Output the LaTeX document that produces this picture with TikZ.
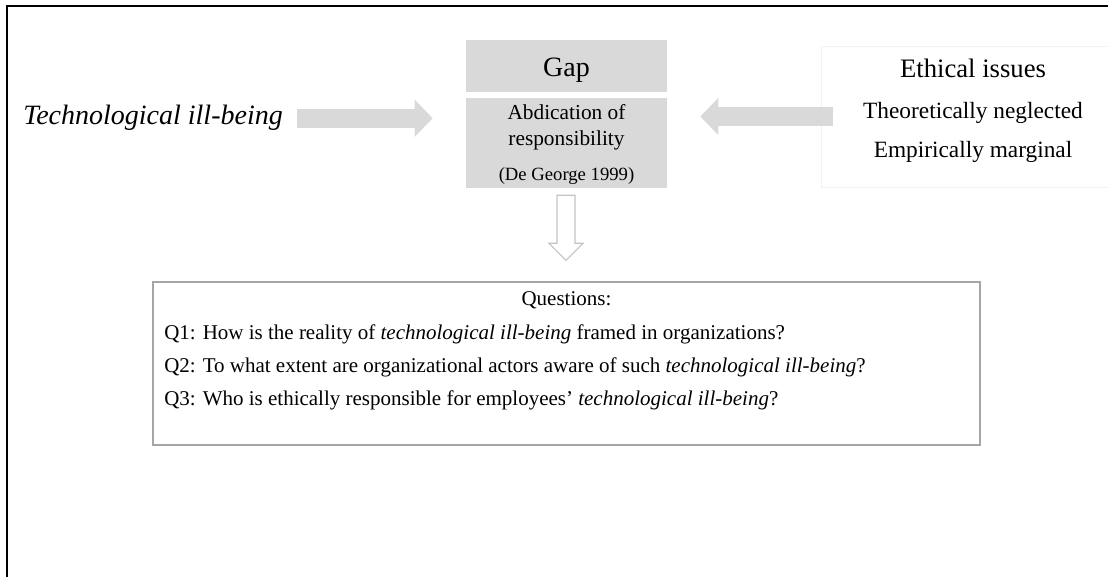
\documentclass[tikz,border=0pt]{standalone}
\usepackage{fontspec}
\setmainfont{Liberation Serif}
\usetikzlibrary{arrows.meta, positioning, calc}
\definecolor{gfill}{HTML}{D9D9D9}
\definecolor{gline}{HTML}{A6A6A6}
\definecolor{hline}{HTML}{C4C4C4}
\definecolor{fline}{HTML}{F2F2F2}
\tikzset{
  graybox/.style={fill=gfill, minimum width=150.75pt, inner sep=0pt},
  ethframe/.style={draw=fline, minimum width=225pt, minimum height=105.75pt, inner sep=0pt},
  qframe/.style={draw=gline, line width=0.8pt, minimum width=620.25pt, minimum height=122.25pt, inner sep=0pt},
  lbl/.style={inner sep=0pt, anchor=base},
  qline/.style={inner sep=0pt, anchor=base west, font=\fontsize{15.75}{19}\selectfont},
  fatarr/.style={gfill, line width=14.25pt, -{Triangle[length=13.5pt, width=27pt]}},
  hollowarr/.style={draw=hline, fill=white, line width=0.8pt, line join=miter},
}

\begin{document}
\begin{tikzpicture}[x=0.75pt, y=-0.75pt]
    \useasboundingbox (0,0) rectangle (1108,577);
    \draw[line width=1.1pt] (7,577) -- (7,6) -- (1108,6);

    % left side
    \node[lbl, anchor=base west, font=\fontsize{21}{25}\selectfont\itshape] (tib) at (23,125) {Technological ill-being};

    % gap in the middle
    \node[graybox, minimum height=39pt] (gap) at (566.5,66) {};
    \node[lbl, font=\fontsize{21}{25}\selectfont] (gaplbl) at (566.5,77) {Gap};
    \node[graybox, minimum height=67.5pt] (abd) at (566.5,143) {};
    \node[lbl, font=\fontsize{16}{19}\selectfont] (abd1) at (566.5,120) {Abdication of};
    \node[lbl, font=\fontsize{16}{19}\selectfont] (abd2) at (566.5,146) {responsibility};
    \node[lbl, font=\fontsize{14}{17}\selectfont] (abdref) at (566.5,181) {(De George 1999)};

    % right side
    \node[ethframe, anchor=west] (ethbox) at (821,116.5) {};
    \node[lbl, font=\fontsize{20}{24}\selectfont] (eth) at (973,78) {Ethical issues};
    \node[lbl, font=\fontsize{17.5}{21}\selectfont] (eth1) at (973,119) {Theoretically neglected};
    \node[lbl, font=\fontsize{17.5}{21}\selectfont] (eth2) at (973,158) {Empirically marginal};

    % questions
    \node[qframe] (qbox) at (566.5,363.5) {};
    \node[lbl, font=\fontsize{15.75}{19}\selectfont] (qhead) at (566.5,306) {Questions:};
    \node[qline] (q1) at (164,340) {Q1: How is the reality of \textit{technological ill-being} framed in organizations?};
    \node[qline] (q2) at (164,373) {Q2: To what extent are organizational actors aware of such \textit{technological ill-being}?};
    \node[qline] (q3) at (164,406) {Q3: Who is ethically responsible for employees’ \textit{technological ill-being}?};

    \draw[fatarr, shorten <=10.5pt, shorten >=24.75pt] (tib.east) -- (tib.east -| abd.west);
    \draw[fatarr, shorten <=-9pt, shorten >=24.75pt] (ethbox.west) -- (ethbox.west -| abd.east);
    \draw[hollowarr] ($(abd.south)+(-9.5,7)$) -- ++(18,0) -- ++(0,48) -- ++(8,0)
      -- ++(-17,17) -- ++(-17,-17) -- ++(8,0) -- cycle;
  \end{tikzpicture}
\end{document}
